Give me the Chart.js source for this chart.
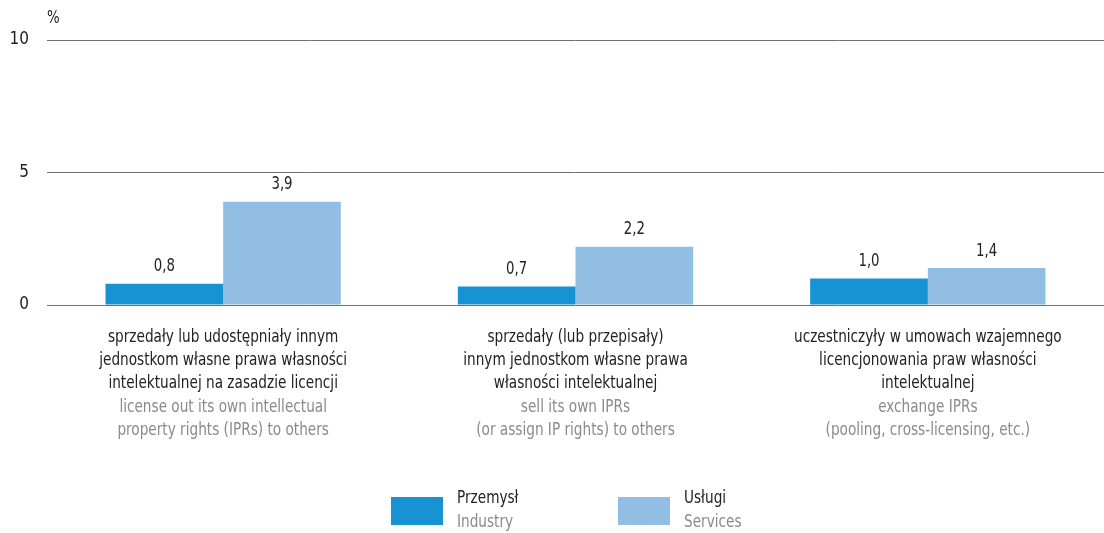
<!DOCTYPE html>
<html>
<head>
<meta charset="utf-8">
<script src="https://cdn.jsdelivr.net/npm/chart.js@4"></script>
<style>
  html, body { margin: 0; padding: 0; background: #fff; }
  #wrap { width: 1104px; height: 533px; position: relative; }
</style>
</head>
<body>
<div id="wrap"><canvas id="c"></canvas></div>
<script>
// Category labels: Polish description lines and English translation lines
const categoriesPL = [
  ["sprzedały lub udostępniały innym", "jednostkom własne prawa własności", "intelektualnej na zasadzie licencji"],
  ["sprzedały (lub przepisały)", "innym jednostkom własne prawa", "własności intelektualnej"],
  ["uczestniczyły w umowach wzajemnego", "licencjonowania praw własności", "intelektualnej"]
];
const categoriesEN = [
  ["license out its own intellectual", "property rights (IPRs) to others"],
  ["sell its own IPRs", "(or assign IP rights) to others"],
  ["exchange IPRs", "(pooling, cross-licensing, etc.)"]
];

// Series values (%)
const industry = [0.8, 0.7, 1.0];
const services = [3.9, 2.2, 1.4];

// Series names (Polish / English)
const seriesPL = ["Przemysł", "Usługi"];
const seriesEN = ["Industry", "Services"];

// Y axis ticks
const yTicks = [0, 5, 10];
const yUnit = "%";

const FONT = "'Liberation Sans Narrow', 'DejaVu Sans Condensed', 'Arial Narrow', sans-serif";
const colors = ["#1793d3", "#93bee3"];
const fmt = v => v.toFixed(1).replace(".", ",");
const SQUEEZE = 0.82; // horizontal compression for a condensed look
const TXT = 18.5;

// Draws text compressed horizontally around its anchor point
function narrowText(ctx, text, x, y) {
  ctx.save();
  ctx.translate(x, y);
  ctx.scale(SQUEEZE, 1);
  ctx.fillText(text, 0, 0);
  ctx.restore();
}

// Value labels above each bar
const valueLabels = {
  id: "valueLabels",
  afterDatasetsDraw(chart) {
    const ctx = chart.ctx;
    ctx.save();
    ctx.font = "18px " + FONT;
    ctx.fillStyle = "#222";
    ctx.textAlign = "center";
    ctx.textBaseline = "middle";
    chart.data.datasets.forEach((ds, i) => {
      chart.getDatasetMeta(i).data.forEach((bar, j) => {
        narrowText(ctx, fmt(ds.data[j]), bar.x, bar.y - 17);
      });
    });
    ctx.restore();
  }
};

// Two-colour multi-line category labels under the axis
const categoryLabels = {
  id: "categoryLabels",
  afterDraw(chart) {
    const ctx = chart.ctx;
    const xs = chart.scales.x;
    const top = chart.chartArea.bottom + 32;
    const lh = 23.3;
    ctx.save();
    ctx.font = TXT + "px " + FONT;
    ctx.textAlign = "center";
    ctx.textBaseline = "middle";
    categoriesPL.forEach((lines, i) => {
      const x = xs.getPixelForValue(i);
      let y = top;
      ctx.fillStyle = "#222";
      lines.forEach(l => { narrowText(ctx, l, x, y); y += lh; });
      ctx.fillStyle = "#8a8a8a";
      categoriesEN[i].forEach(l => { narrowText(ctx, l, x, y); y += lh; });
    });
    // unit above the axis
    ctx.font = "18px " + FONT;
    ctx.fillStyle = "#222";
    ctx.textAlign = "left";
    narrowText(ctx, yUnit, chart.chartArea.left, 18);
    ctx.restore();
  }
};

// Legend with bilingual series names
const bilingualLegend = {
  id: "bilingualLegend",
  afterDraw(chart) {
    const ctx = chart.ctx;
    const starts = [391, 618];
    const boxY = 497, boxW = 52, boxH = 28;
    ctx.save();
    ctx.font = TXT + "px " + FONT;
    ctx.textAlign = "left";
    ctx.textBaseline = "middle";
    chart.data.datasets.forEach((ds, i) => {
      const x = starts[i];
      ctx.fillStyle = ds.backgroundColor;
      ctx.fillRect(x, boxY, boxW, boxH);
      ctx.fillStyle = "#222";
      narrowText(ctx, seriesPL[i], x + 66, 498);
      ctx.fillStyle = "#8a8a8a";
      narrowText(ctx, seriesEN[i], x + 66, 522);
    });
    ctx.restore();
  }
};

new Chart(document.getElementById("c"), {
  type: "bar",
  data: {
    labels: categoriesPL.map((l, i) => i),
    datasets: [
      { label: seriesPL[0], data: industry, backgroundColor: colors[0] },
      { label: seriesPL[1], data: services, backgroundColor: colors[1] }
    ]
  },
  options: {
    responsive: true,
    maintainAspectRatio: false,
    animation: false,
    layout: { padding: { top: 40, bottom: 220, right: 0, left: 0 } },
    plugins: { legend: { display: false }, tooltip: { enabled: false } },
    datasets: { bar: { categoryPercentage: 0.668, barPercentage: 1.0 } },
    scales: {
      x: {
        ticks: { display: false },
        grid: { display: false },
        border: { display: false }
      },
      y: {
        min: 0, max: 10,
        afterBuildTicks: s => { s.ticks = yTicks.map(v => ({ value: v })); },
        afterFit: s => { s.width = 47; },
        ticks: {
          font: { family: FONT, size: 17 },
          color: "#222",
          padding: 18
        },
        grid: { color: "#707070", lineWidth: 1, drawTicks: false },
        border: { display: false }
      }
    }
  },
  plugins: [valueLabels, categoryLabels, bilingualLegend]
});
</script>
</body>
</html>
